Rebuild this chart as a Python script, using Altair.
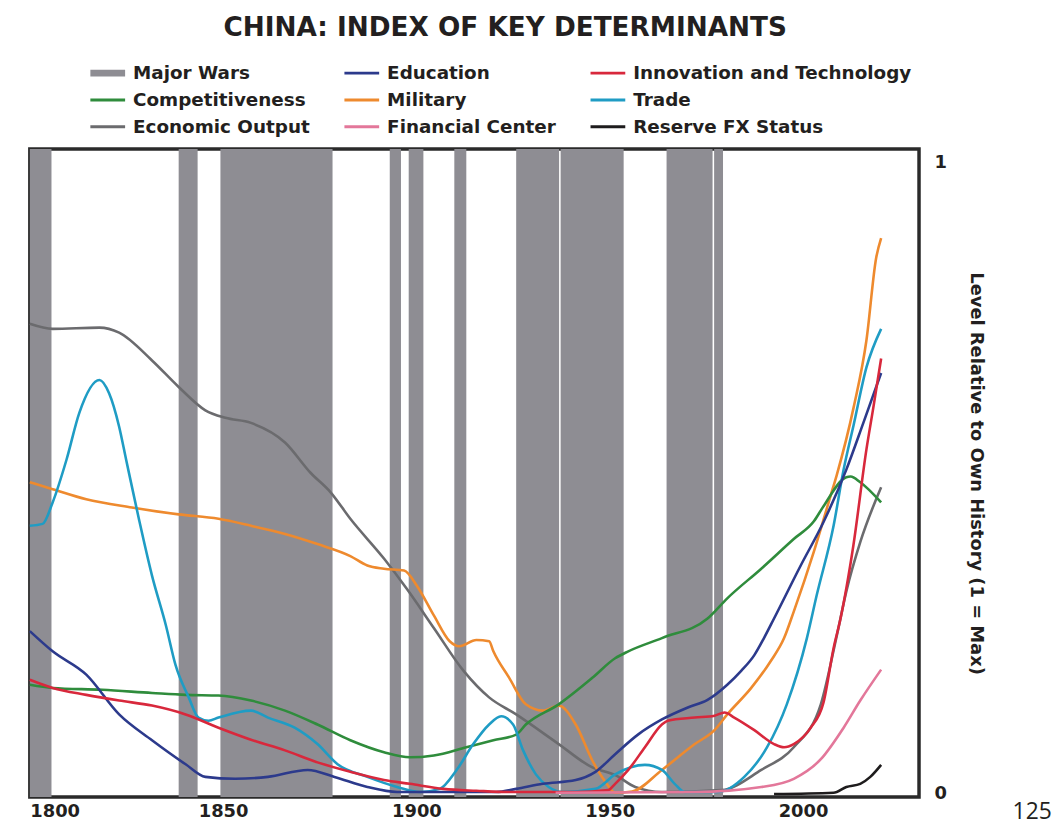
import altair as alt
import pandas as pd

# ---------------- data ----------------
TITLE = "CHINA: INDEX OF KEY DETERMINANTS"
Y_TITLE = "Level Relative to Own History (1 = Max)"
X_TICKS = [1800, 1850, 1900, 1950, 2000]
Y_TICKS = [0, 1]

war_start = [1800.0, 1838.5, 1849.3, 1893.1, 1898.0, 1909.8, 1925.8, 1937.3, 1964.7, 1977.0]
war_end = [1805.6, 1843.4, 1878.3, 1896.0, 1901.8, 1912.9, 1936.9, 1953.6, 1976.6, 1979.3]

econ_year = [1800, 1805.9, 1818, 1823.1, 1831.6, 1838.5, 1845.4, 1850.6, 1857.2, 1866, 1872.6, 1877.8,
             1882.9, 1891.6, 1897.5, 1904.5, 1912.2, 1918.8, 1925.8, 1936.8, 1945.5, 1951.4, 1956.6,
             1963.5, 1978.9, 1989.2, 1997.6, 2004.6, 2008.7, 2011.2, 2014.8, 2020.2]
econ_val = [0.745, 0.737, 0.739, 0.731, 0.687, 0.645, 0.608, 0.596, 0.588, 0.557, 0.509, 0.478,
            0.436, 0.373, 0.325, 0.263, 0.195, 0.153, 0.126, 0.079, 0.042, 0.030, 0.011,
            0.003, 0.006, 0.038, 0.074, 0.142, 0.250, 0.321, 0.399, 0.486]

trade_year = [1800, 1803.3, 1805.9, 1809.5, 1812.8, 1818, 1820.5, 1823.1, 1824.9, 1828.2, 1831.6,
              1835.2, 1837.7, 1841.1, 1843.6, 1846.2, 1848.8, 1857.2, 1861.6, 1868.5, 1874.4, 1879.6,
              1887.3, 1895, 1900.9, 1906, 1910.4, 1914.7, 1918.8, 1921.9, 1925, 1927.6, 1930.9,
              1934.2, 1937.8, 1946.3, 1951.4, 1959.1, 1963.5, 1966.8, 1969.4, 1977.9, 1984.8,
              1990.7, 1995.8, 2001, 2003.5, 2007.9, 2010.5, 2013.1, 2016.4, 2020.2]
trade_val = [0.425, 0.428, 0.462, 0.530, 0.604, 0.656, 0.635, 0.582, 0.530, 0.436, 0.346,
             0.267, 0.204, 0.153, 0.121, 0.116, 0.121, 0.132, 0.121, 0.105, 0.079, 0.047,
             0.027, 0.011, 0.003, 0.008, 0.038, 0.079, 0.110, 0.123, 0.110, 0.069, 0.031,
             0.011, 0.003, 0.008, 0.031, 0.046, 0.038, 0.016, 0.003, 0.003, 0.027,
             0.074, 0.142, 0.247, 0.314, 0.425, 0.514, 0.585, 0.676, 0.737]

mil_year = [1800, 1805.9, 1814.6, 1826.4, 1838.5, 1848.8, 1857.2, 1866, 1874.4, 1882.9, 1887.3,
            1891.6, 1896.8, 1900.1, 1904.5, 1908.6, 1911.1, 1915.5, 1918.8, 1919.9, 1924, 1928.3,
            1932.7, 1936.8, 1941.2, 1945.5, 1948.9, 1951.4, 1955.8, 1963.5, 1972, 1977.1, 1980.4,
            1986.6, 1991.7, 1995.1, 1997.6, 2002.8, 2007.1, 2008.7, 2013.1, 2016.4, 2018.9, 2020.2]
mil_val = [0.494, 0.483, 0.467, 0.454, 0.443, 0.436, 0.425, 0.412, 0.396, 0.377, 0.362,
           0.357, 0.354, 0.330, 0.283, 0.242, 0.234, 0.244, 0.242, 0.226, 0.184, 0.142,
           0.132, 0.140, 0.110, 0.053, 0.019, 0.002, 0.004, 0.038, 0.079, 0.101, 0.126,
           0.168, 0.211, 0.247, 0.289, 0.384, 0.472, 0.505, 0.613, 0.719, 0.849, 0.881]

edu_year = [1800, 1805.9, 1814.6, 1823.1, 1831.6, 1840.3, 1845.4, 1853.1, 1861.6, 1871.9, 1878.8,
            1887.3, 1895, 1920.6, 1925.8, 1932.7, 1941.2, 1946.3, 1951.4, 1957.3, 1963.5, 1970.2,
            1975.3, 1980.4, 1984, 1987.4, 1989.9, 1992.5, 1999.4, 2005.3, 2011.2, 2015.6, 2020.2]
edu_val = [0.258, 0.226, 0.189, 0.126, 0.085, 0.047, 0.027, 0.024, 0.027, 0.038, 0.027,
           0.011, 0.003, 0.003, 0.008, 0.016, 0.022, 0.035, 0.063, 0.094, 0.118, 0.137,
           0.149, 0.173, 0.195, 0.220, 0.247, 0.278, 0.362, 0.431, 0.514, 0.588, 0.667]

comp_year = [1800, 1805.9, 1818.7, 1831.6, 1840.3, 1848.8, 1857.2, 1866, 1874.4, 1882.9, 1891.6,
             1898.3, 1904.5, 1912.9, 1919.9, 1925.8, 1928.3, 1936.8, 1945.5, 1951.4, 1954.8,
             1963.5, 1975.3, 1980.4, 1989.2, 1997.6, 2002.8, 2005.3, 2011.2, 2012.3, 2014.8, 2020.2]
comp_val = [0.173, 0.168, 0.165, 0.160, 0.157, 0.156, 0.148, 0.132, 0.110, 0.085, 0.066,
            0.058, 0.061, 0.074, 0.085, 0.094, 0.110, 0.142, 0.184, 0.215, 0.226,
            0.247, 0.278, 0.310, 0.357, 0.404, 0.432, 0.456, 0.502, 0.503, 0.494, 0.462]

innov_year = [1800, 1805.9, 1814.6, 1823.1, 1831.6, 1840.3, 1848.8, 1857.2, 1866, 1874.4, 1882.9,
              1891.6, 1898.3, 1907, 1915.5, 1924, 1941.2, 1949.6, 1951.4, 1954.8, 1959.1, 1963.5,
              1965, 1972, 1977.1, 1979.7, 1982.2, 1987.4, 1992.5, 1995.1, 1997.6, 2002, 2005.3,
              2007.9, 2009.7, 2013, 2016.4, 2018.2, 2020.2]
innov_val = [0.181, 0.168, 0.157, 0.148, 0.140, 0.126, 0.105, 0.086, 0.069, 0.050, 0.035,
             0.022, 0.016, 0.008, 0.005, 0.003, 0.003, 0.006, 0.016, 0.038, 0.074, 0.110,
             0.116, 0.121, 0.124, 0.129, 0.121, 0.101, 0.079, 0.074, 0.079, 0.105, 0.145,
             0.231, 0.278, 0.393, 0.546, 0.613, 0.690]

fin_year = [1936, 1972, 1989.2, 1997.6, 2004.6, 2010.5, 2014.8, 2020.2]
fin_val = [0.002, 0.003, 0.011, 0.024, 0.055, 0.105, 0.148, 0.197]

fx_year = [1992.5, 2007.9, 2011.2, 2014.8, 2017.4, 2020.2]
fx_val = [0.0, 0.002, 0.011, 0.016, 0.027, 0.046]

# legend order (row-major, 3 columns)
SERIES = ["Major Wars", "Education", "Innovation and Technology",
          "Competitiveness", "Military", "Trade",
          "Economic Output", "Financial Center", "Reserve FX Status"]
COLORS = ["#8e8d93", "#2c3a8c", "#d8283c",
          "#2f8c3c", "#ee8a2e", "#1f9cc4",
          "#6b6b6e", "#e3779a", "#1e1c1d"]
LINE_SYM = "M-1,-0.085H1V0.085H-1Z"
WAR_SYM = "M-1,-0.2H1V0.2H-1Z"
SHAPES = [WAR_SYM] + [LINE_SYM] * 8

# ---------------- tables ----------------
series_data = {
    "Economic Output": (econ_year, econ_val),
    "Military": (mil_year, mil_val),
    "Competitiveness": (comp_year, comp_val),
    "Trade": (trade_year, trade_val),
    "Education": (edu_year, edu_val),
    "Innovation and Technology": (innov_year, innov_val),
    "Financial Center": (fin_year, fin_val),
    "Reserve FX Status": (fx_year, fx_val),
}
rows = []
for order, (name, (ys, vs)) in enumerate(series_data.items()):
    for y, v in zip(ys, vs):
        rows.append({"series": name, "year": y, "value": v, "ord": order})
lines_df = pd.DataFrame(rows)
wars_df = pd.DataFrame({"start": war_start, "end": war_end, "series": "Major Wars"})

FONT = "DejaVu Sans"
color_scale = alt.Scale(domain=SERIES, range=COLORS)
shape_scale = alt.Scale(domain=SERIES, range=SHAPES)
legend = alt.Legend(
    title=None, orient="none", legendX=61, legendY=-94, columns=3,
    direction="horizontal",
    labelFont=FONT, labelFontWeight="bold", labelFontSize=18.5, labelColor="#231f20",
    symbolSize=1225, symbolStrokeWidth=0, labelOffset=8, columnPadding=34, rowPadding=-6,
    labelLimit=400, padding=0,
)

x_enc = alt.X("year:Q", scale=alt.Scale(domain=[1800, 2030], nice=False, zero=False),
              axis=alt.Axis(values=X_TICKS, format="d", title=None, domain=False, ticks=False,
                            grid=False, labelFont=FONT, labelFontWeight="bold", labelFontSize=18,
                            labelColor="#231f20", labelPadding=6))

wars = alt.Chart(wars_df).mark_rect(opacity=1).encode(
    x=alt.X("start:Q", scale=alt.Scale(domain=[1800, 2030], nice=False, zero=False)),
    x2="end:Q",
    color=alt.Color("series:N", scale=color_scale, legend=legend),
)

lines = alt.Chart(lines_df).mark_line(strokeWidth=2.6, interpolate="monotone").encode(
    x=x_enc,
    y=alt.Y("value:Q", scale=alt.Scale(domain=[-0.005, 1.022], nice=False, zero=False),
            axis=alt.Axis(orient="right", values=Y_TICKS, format="d", title=Y_TITLE,
                          domain=False, ticks=False, grid=False, labelFont=FONT,
                          labelFontWeight="bold", labelFontSize=18, labelColor="#231f20",
                          labelPadding=15, titleFont=FONT, titleFontWeight="bold",
                          titleFontSize=18, titleColor="#231f20", titlePadding=20)),
    color=alt.Color("series:N", scale=color_scale, legend=legend),
    detail="series:N",
    order="year:Q",
)

shapes = alt.Chart(lines_df).mark_point(filled=True, opacity=1).encode(
    color=alt.Color("series:N", scale=color_scale, legend=legend),
    shape=alt.Shape("series:N", scale=shape_scale, legend=legend),
).transform_filter("false")

page_no = alt.Chart(pd.DataFrame({"t": ["125"]})).mark_text(
    font="Open Sans", fontSize=23, color="#231f20", align="center", baseline="alphabetic"
).encode(text="t:N", x=alt.value(1010), y=alt.value(675))

chart = alt.layer(wars, lines, shapes, page_no).properties(
    width=896, height=653,
    title=alt.Title(TITLE, font=FONT, fontSize=26.5, fontWeight="bold", color="#231f20",
                    anchor="middle", offset=14, dx=31),
    autosize="none",
    padding={"left": 22, "top": 139, "right": 134, "bottom": 25},
    background="#ffffff",
).configure_view(stroke="#2a2a2a", strokeWidth=3.5)

chart.save("out.html", embed_options={"renderer": "svg", "actions": False})
